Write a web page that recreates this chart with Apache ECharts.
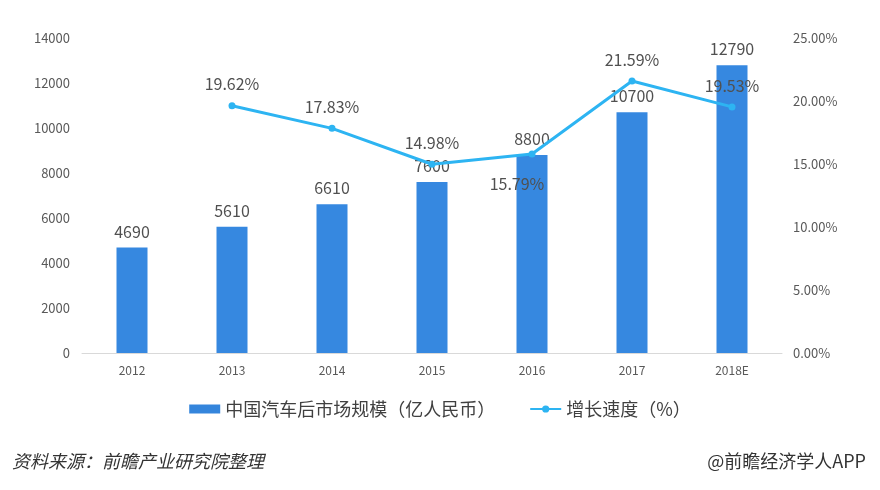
<!DOCTYPE html>
<html><head><meta charset="utf-8">
<script src="https://cdn.jsdelivr.net/npm/echarts@6/dist/echarts.min.js"></script>
<style>html,body{margin:0;padding:0;background:#fff}#c{width:880px;height:490px}</style>
</head><body><div id="c"></div>
<script>
var categories = ['2012','2013','2014','2015','2016','2017','2018E'];
var marketSize = [4690,5610,6610,7600,8800,10700,12790];
var growth = [null,19.62,17.83,14.98,15.79,21.59,19.53];
var leftTicks = [0,2000,4000,6000,8000,10000,12000,14000];
var rightTicks = [0,5,10,15,20,25];

var font = '"Noto Sans CJK SC", "Noto Sans", sans-serif';
var chart = echarts.init(document.getElementById('c'));
chart.setOption({
  animation:false,
  textStyle:{fontFamily:font},
  grid:{left:82,right:98,top:38,bottom:137},
  legend:{
    top:395,left:'center',itemGap:34,
    textStyle:{fontSize:18,color:'#404040',fontFamily:font},
    data:[{name:'中国汽车后市场规模（亿人民币）',icon:'rect',itemStyle:{color:'#3485dc'}},
          {name:'增长速度（%）'}],
    itemWidth:31,itemHeight:9
  },
  graphic:[
    {type:'text',left:12,top:452,style:{text:'资料来源：前瞻产业研究院整理',font:'italic 18px '+font,fill:'#333'}},
    {type:'text',right:14,top:452,style:{text:'@前瞻经济学人APP',font:'18px '+font,fill:'#333'}}
  ],
  xAxis:{type:'category',data:categories,
    axisLine:{lineStyle:{color:'#d9d9d9'}},axisTick:{show:false},
    axisLabel:{color:'#595959',fontSize:12,margin:11}},
  yAxis:[
    {type:'value',min:0,max:14000,interval:2000,
     axisLine:{show:false},axisTick:{show:false},splitLine:{show:false},
     axisLabel:{color:'#595959',fontSize:13,margin:12,formatter:function(v){return String(v);}}},
    {type:'value',min:0,max:25,interval:5,
     axisLine:{show:false},axisTick:{show:false},splitLine:{show:false},
     axisLabel:{color:'#595959',fontSize:13,margin:11,formatter:function(v){return v.toFixed(2)+'%';}}}
  ],
  series:[
    {name:'中国汽车后市场规模（亿人民币）',type:'bar',data:marketSize,barWidth:31,
     itemStyle:{color:'#3688e0'},
     label:{show:true,position:'top',distance:8,color:'#505050',fontSize:16}},
    {name:'增长速度（%）',type:'line',yAxisIndex:1,
     data:growth.map(function(v,i){
       if(v===null) return null;
       var o={value:v};
       if(i===4) o.label={position:'bottom',distance:18,offset:[-15,0]};
       return o;}),
     lineStyle:{width:3,color:'#2db4f2'},itemStyle:{color:'#2db4f2'},
     symbol:'circle',symbolSize:7,
     label:{show:true,position:'top',distance:10,color:'#505050',fontSize:16,
       formatter:function(p){return p.value.toFixed(2)+'%';}}}
  ]
});
</script></body></html>
